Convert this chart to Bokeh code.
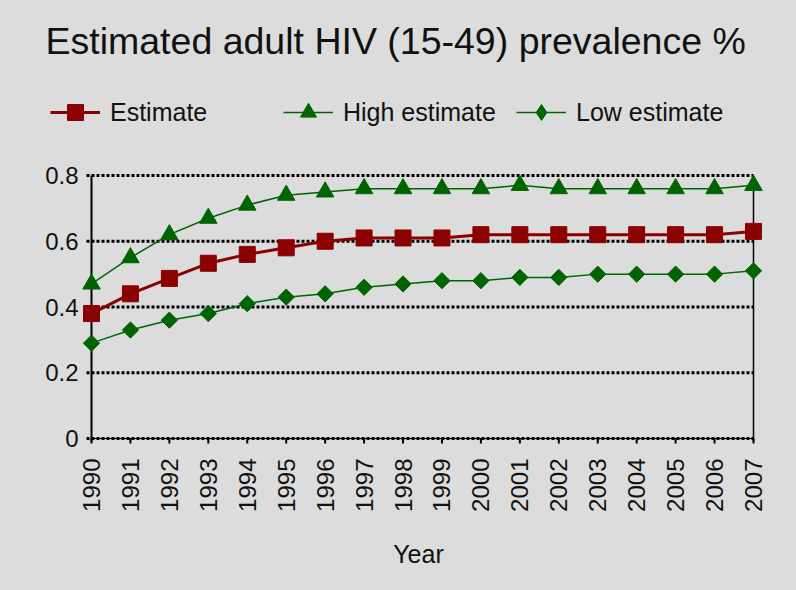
import math
from bokeh.plotting import figure
from bokeh.models import Range1d, Legend, LegendItem, Label, FixedTicker
from bokeh.core.properties import value
from bokeh.embed import file_html
from bokeh.resources import INLINE

# ---- data ----
years = [1990, 1991, 1992, 1993, 1994, 1995, 1996, 1997, 1998,
         1999, 2000, 2001, 2002, 2003, 2004, 2005, 2006, 2007]
estimate = [0.38, 0.44, 0.487, 0.533, 0.56, 0.58, 0.60, 0.61, 0.61,
            0.61, 0.62, 0.62, 0.62, 0.62, 0.62, 0.62, 0.62, 0.63]
high_estimate = [0.47, 0.55, 0.62, 0.67, 0.71, 0.74, 0.75, 0.76, 0.76,
                 0.76, 0.76, 0.77, 0.76, 0.76, 0.76, 0.76, 0.76, 0.77]
low_estimate = [0.29, 0.33, 0.36, 0.38, 0.41, 0.43, 0.44, 0.46, 0.47,
                0.48, 0.48, 0.49, 0.49, 0.50, 0.50, 0.50, 0.50, 0.51]
y_ticks = [0, 0.2, 0.4, 0.6, 0.8]
y_tick_labels = ["0", "0.2", "0.4", "0.6", "0.8"]
series_names = ["Estimate", "High estimate", "Low estimate"]
title_text = "Estimated adult HIV (15-49) prevalence %"
x_label = "Year"

# ---- style ----
BG = "#dcdcdc"
FONT = "Liberation Sans"
TXT = "#111111"
RED = "#8b0000"
GREEN = "#006400"

W, H = 796, 590
BL, BR, BT, BB = 40, 0, 0, 138
frame_w = W - BL - BR
frame_h = H - BT - BB
px_year = 662 / (years[-1] - years[0])
px_unit = 263 / y_ticks[-1]
x_start = years[0] - (91 - BL) / px_year
x_end = x_start + frame_w / px_year
y_start = -(H - BB - 438) / px_unit
y_end = y_start + frame_h / px_unit

p = figure(width=W, height=H, output_backend="svg", toolbar_location=None, title=None,
           x_range=Range1d(x_start, x_end), y_range=Range1d(y_start, y_end),
           min_border_left=BL, min_border_right=BR, min_border_top=BT, min_border_bottom=BB,
           background_fill_color=BG, border_fill_color=BG, outline_line_color=None)
p.xgrid.visible = False
p.ygrid.visible = False
p.yaxis.visible = False

n_y = len(y_ticks)
below = -3 / px_unit
# solid baseline + dotted grid lines (with short tick stubs left of the axis)
p.segment(x0=[years[0]], x1=[years[-1]], y0=[y_ticks[0]], y1=[y_ticks[0]],
          line_color="black", line_width=1)
p.segment(x0=[years[0] - 5 / px_year] * n_y, x1=[years[-1]] * n_y,
          y0=y_ticks, y1=y_ticks, line_color="black", line_width=3, line_dash="3 2")
# x tick marks under the baseline
p.segment(x0=years, x1=years, y0=[y_ticks[0]] * len(years), y1=[-5 / px_unit] * len(years),
          line_color="black", line_width=2)
# left axis line and right border line
p.segment(x0=[years[0]], x1=[years[0]], y0=[below], y1=[y_ticks[-1]],
          line_color="black", line_width=2)
p.segment(x0=[years[-1]], x1=[years[-1]], y0=[below], y1=[y_ticks[-1]],
          line_color="black", line_width=1.5)

# y tick labels
p.text(x=[years[0]] * n_y, y=y_ticks, text=y_tick_labels, x_offset=-13,
       text_align="right", text_baseline="middle", text_font=value(FONT),
       text_font_size="24px", text_color=TXT)

# series
l_est = p.line(years, estimate, line_color=RED, line_width=3)
m_est = p.scatter(years, estimate, marker="square", size=16, fill_color=RED, line_color=RED)
l_hi = p.line(years, high_estimate, line_color=GREEN, line_width=1.5)
m_hi = p.scatter(years, high_estimate, marker="triangle", size=17.5, fill_color=GREEN, line_color=GREEN)
l_lo = p.line(years, low_estimate, line_color=GREEN, line_width=1.5)
m_lo = p.scatter(years, low_estimate, marker="square", angle=math.pi / 4, size=11.5,
                 fill_color=GREEN, line_color=GREEN)
# legend proxy for the diamond marker (legend swatches are drawn unrotated)
m_lo_key = p.scatter(years, low_estimate, marker="diamond", size=16,
                     fill_color=GREEN, line_color=GREEN, visible=False)

# x axis
p.xaxis.ticker = FixedTicker(ticks=years)
p.xaxis.major_label_orientation = math.pi / 2
p.xaxis.axis_line_color = None
p.xaxis.major_tick_out = 0
p.xaxis.major_tick_in = 0
p.xaxis.major_tick_line_color = None
p.xaxis.minor_tick_line_color = None
p.xaxis.major_label_standoff = 6
p.xaxis.major_label_text_font = FONT
p.xaxis.major_label_text_font_size = "24px"
p.xaxis.major_label_text_color = TXT
p.xaxis.axis_label = x_label
p.xaxis.axis_label_standoff = 25
p.xaxis.axis_label_text_font = FONT
p.xaxis.axis_label_text_font_size = "25px"
p.xaxis.axis_label_text_font_style = "normal"
p.xaxis.axis_label_text_color = TXT

# title (inside the frame area, screen units relative to the frame)
p.add_layout(Label(x=45 - BL, y=frame_h - 40, x_units="screen", y_units="screen",
                   text=title_text, text_font=FONT, text_font_size="37.5px",
                   text_color=TXT, text_baseline="alphabetic"))

# legend
items = [LegendItem(label=n, renderers=r)
         for n, r in zip(series_names, [[l_est, m_est], [l_hi, m_hi], [l_lo, m_lo_key]])]
leg = Legend(items=items, location=(50 - BL, frame_h - 132), orientation="horizontal",
             glyph_width=50, glyph_height=40, label_standoff=10, label_width=160, spacing=13,
             label_text_font=FONT, label_text_font_size="25px", label_text_color=TXT,
             background_fill_alpha=0, border_line_color=None, padding=0, margin=0)
p.add_layout(leg)

html = file_html(p, INLINE)
html = html.replace("<body>", '<body style="background-color:#dcdcdc;margin:0;">')
open("out.html", "w").write(html)
